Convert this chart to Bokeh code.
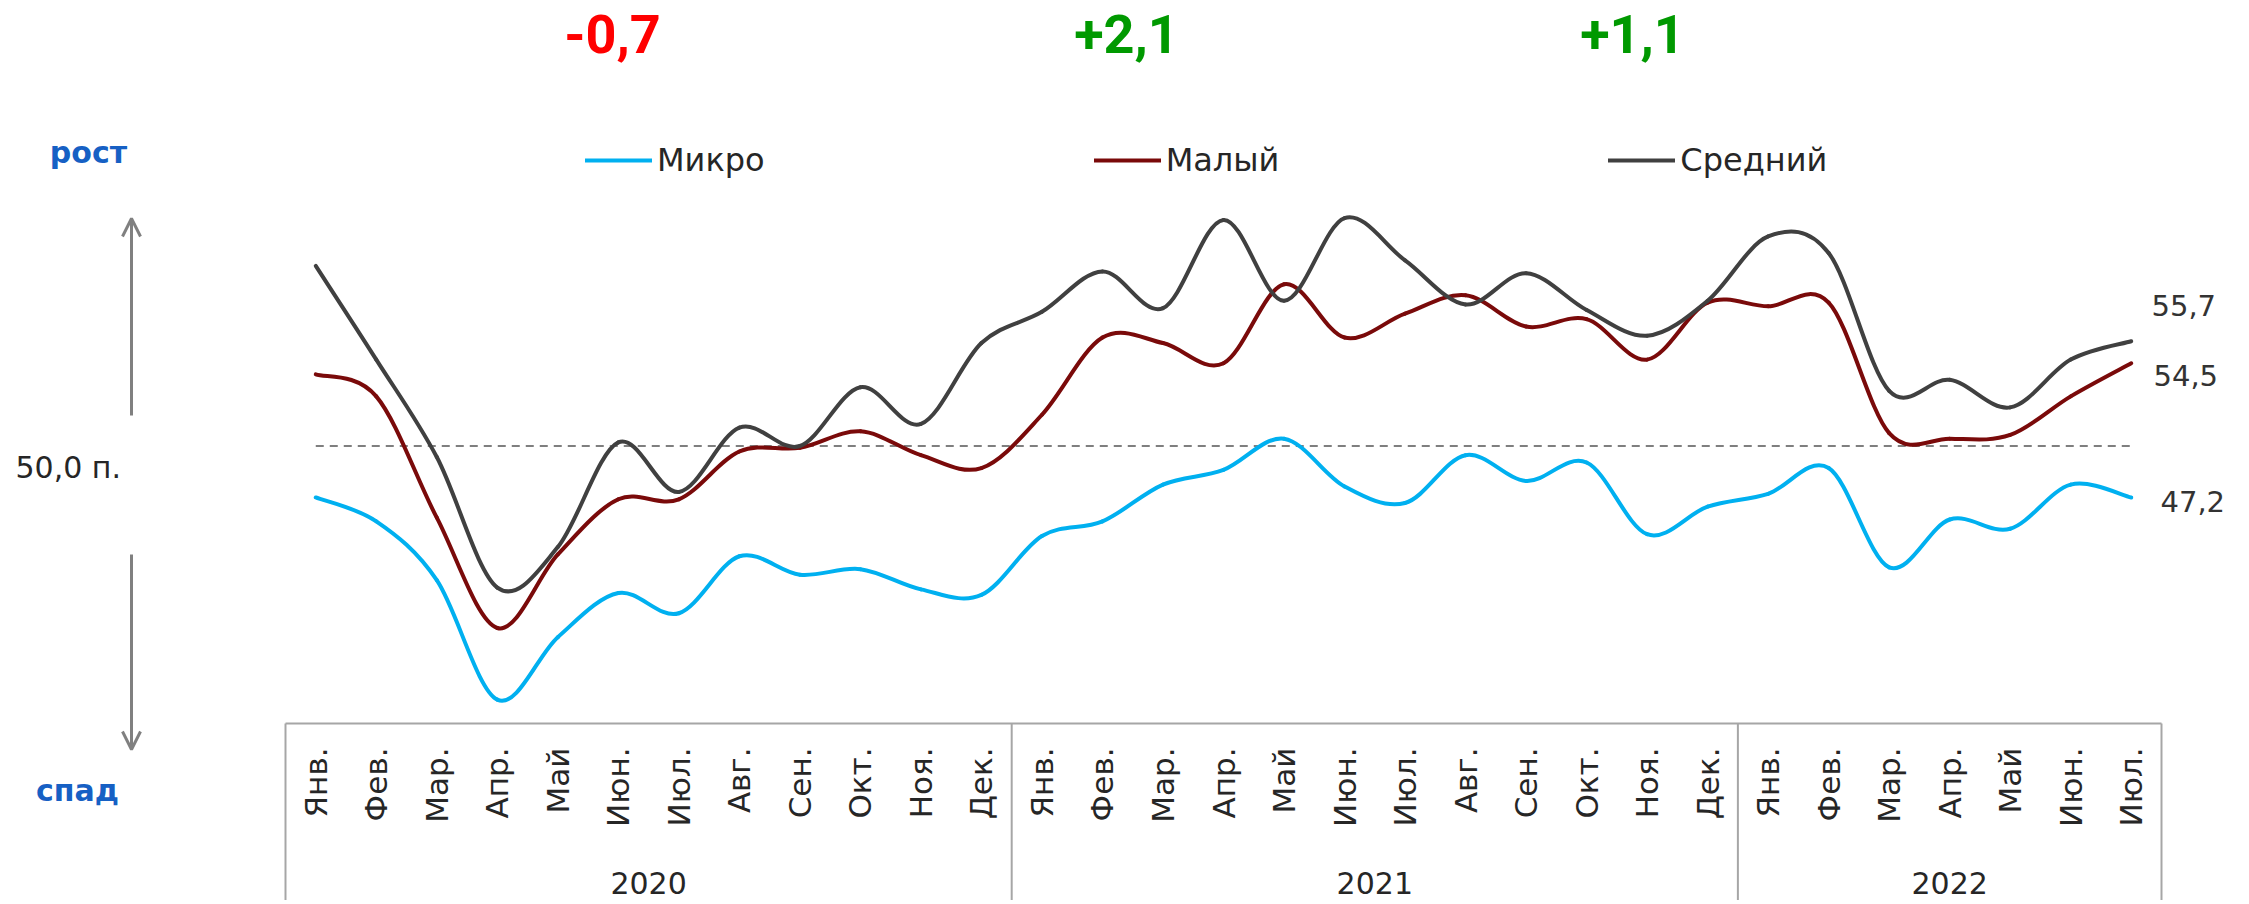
import math
from bokeh.plotting import figure
from bokeh.models import (Range1d, ColumnDataSource, Legend, LegendItem, Label, Arrow, OpenHead)
from bokeh.core.properties import value
from bokeh.embed import file_html
from bokeh.resources import INLINE

# ---------------- data ----------------
years = ["2020", "2021", "2022"]
months_in_year = [12, 12, 7]
month_names = ["Янв.", "Фев.", "Мар.", "Апр.", "Май", "Июн.",
               "Июл.", "Авг.", "Сен.", "Окт.", "Ноя.", "Дек."]

micro = [47.2, 45.9, 42.7, 36.2, 39.6, 42.0, 40.9, 44.0, 43.0, 43.3, 42.2, 41.9,
         45.1, 45.9, 47.9, 48.7, 50.4, 47.8, 46.9, 49.5, 48.1, 49.1, 45.2, 46.7,
         47.4, 48.8, 43.4, 46.0, 45.5, 47.9, 47.2]
small = [53.9, 52.7, 46.1, 40.1, 44.1, 47.1, 47.1, 49.7, 49.9, 50.8, 49.5, 48.8,
         51.7, 55.9, 55.6, 54.5, 58.8, 55.9, 57.2, 58.2, 56.5, 56.9, 54.7, 57.8,
         57.6, 57.8, 50.7, 50.4, 50.6, 52.7, 54.5]
medium = [59.8, 54.7, 49.4, 42.3, 44.5, 50.2, 47.5, 51.0, 50.0, 53.2, 51.2, 55.6,
          57.3, 59.5, 57.5, 62.3, 57.9, 62.4, 60.1, 57.7, 59.4, 57.4, 56.0, 57.9,
          61.4, 60.5, 53.0, 53.6, 52.1, 54.7, 55.7]
series_names = ["Микро", "Малый", "Средний"]
threshold = 50.0
threshold_label = "50,0 п."
end_labels = ["47,2", "54,5", "55,7"]
changes = ["-0,7", "+2,1", "+1,1"]
up_label = "рост"
down_label = "спад"

# ---------------- geometry helpers (reference pixel -> data) ----------------
W, H = 2245, 900
OFF = 0
BOX_LEFT, BOX_RIGHT, BOX_TOP = 285, 2161, 723
N = len(micro)
PXM = (BOX_RIGHT - BOX_LEFT) / N
Y50_PX = 445.5
KY = 18.38


def dx(px):
    return (px - BOX_LEFT) / PXM


def dy(py):
    return 50 + (Y50_PX - py) / KY


p = figure(width=W, height=H,
           x_range=Range1d(dx(OFF), dx(OFF + W)), y_range=Range1d(dy(OFF + H), dy(OFF)),
           x_axis_location=None, y_axis_location=None, min_border=0,
           output_backend="svg", toolbar_location=None, tools="")
p.outline_line_color = None
p.background_fill_color = "white"
p.border_fill_color = "white"
p.grid.visible = False

FONT = value("DejaVu Sans")
AX_COL = "#A6A6A6"

# ---------------- category axis (months / years) ----------------
mx, mlab, yx, ylab = [], [], [], []
bounds = [0]
i = 0
for yr, cnt in zip(years, months_in_year):
    start = i
    for m in month_names[:cnt]:
        mx.append(i + 0.5)
        mlab.append(m)
        i += 1
    yx.append((start + i) / 2)
    ylab.append(yr)
    bounds.append(i)

p.text(x=mx, y=[dy(747)] * len(mx), text=mlab, angle=math.pi / 2,
       text_align="right", text_baseline="middle", text_font=FONT,
       text_font_size="31px", text_color="#262626")
p.text(x=yx, y=[dy(882)] * len(yx), text=ylab, text_align="center",
       text_baseline="middle", text_font=FONT, text_font_size="30px", text_color="#262626")
p.segment(x0=[bounds[0]], y0=[dy(BOX_TOP)], x1=[bounds[-1]], y1=[dy(BOX_TOP)],
          line_color=AX_COL, line_width=2)
p.segment(x0=bounds, y0=[dy(BOX_TOP)] * len(bounds), x1=bounds, y1=[dy(OFF + H + 20)] * len(bounds),
          line_color=AX_COL, line_width=2)

# threshold dashed line
xs = [k + 0.5 for k in range(N)]
p.line(xs, [threshold] * N, line_color="#7F7F7F", line_width=2, line_dash="8 6")


def bezier_source(vals):
    n = len(vals)

    def P(k):
        k = min(max(k, 0), n - 1)
        return k + 0.5, vals[k]
    d = dict(x0=[], y0=[], x1=[], y1=[], cx0=[], cy0=[], cx1=[], cy1=[])
    for k in range(n - 1):
        xa, ya = P(k - 1)
        xb, yb = P(k)
        xc, yc = P(k + 1)
        xd, yd = P(k + 2)
        d["x0"].append(xb); d["y0"].append(yb)
        d["x1"].append(xc); d["y1"].append(yc)
        d["cx0"].append(xb + (xc - xa) / 6); d["cy0"].append(yb + (yc - ya) / 6)
        d["cx1"].append(xc - (xd - xb) / 6); d["cy1"].append(yc - (yd - yb) / 6)
    return ColumnDataSource(d)


colors = ["#00B0F0", "#7A0A0A", "#404040"]
renderers = []
for vals, col in zip([micro, small, medium], colors):
    r = p.bezier(x0="x0", y0="y0", x1="x1", y1="y1", cx0="cx0", cy0="cy0",
                 cx1="cx1", cy1="cy1", source=bezier_source(vals),
                 line_color=col, line_width=4, line_cap="round")
    renderers.append(r)

legend = Legend(items=[LegendItem(label=nm, renderers=[r]) for nm, r in zip(series_names, renderers)],
                orientation="horizontal", location=(585 - OFF, OFF + H - 179),
                glyph_width=67, glyph_height=34, label_standoff=5, spacing=329,
                padding=0, margin=0, border_line_color=None, background_fill_alpha=0,
                label_text_font="DejaVu Sans", label_text_font_size="32px",
                label_text_color="#262626", label_text_baseline="middle")
p.add_layout(legend, "center")

# end value labels
end_pos = [(2160, 501), (2153, 375), (2151, 305)]
for txt, (px, py) in zip(end_labels, end_pos):
    p.add_layout(Label(x=dx(px), y=dy(py), text=txt, text_align="left", text_baseline="middle",
                       text_font="DejaVu Sans", text_font_size="29px", text_color="#333333"))

# top change numbers
change_colors = ["#FF0000", "#009900", "#009900"]
change_pos = [612, 1126, 1632]
for txt, col, px in zip(changes, change_colors, change_pos):
    p.add_layout(Label(x=dx(px), y=dy(33), text=txt, text_align="center", text_baseline="middle",
                       text_font="Roboto", text_font_style="bold", text_font_size="54px",
                       text_color=col))

# left side annotations
p.add_layout(Label(x=dx(15), y=dy(467), text=threshold_label, text_align="left",
                   text_baseline="middle", text_font="DejaVu Sans", text_font_size="30px",
                   text_color="#262626"))
p.add_layout(Label(x=dx(88), y=dy(152), text=up_label, text_align="center", text_baseline="middle",
                   text_font="DejaVu Sans", text_font_style="bold", text_font_size="30px",
                   text_color="#1660C4"))
p.add_layout(Label(x=dx(77), y=dy(790), text=down_label, text_align="center", text_baseline="middle",
                   text_font="DejaVu Sans", text_font_style="bold", text_font_size="30px",
                   text_color="#1660C4"))
p.add_layout(Arrow(x_start=dx(131), y_start=dy(415), x_end=dx(131), y_end=dy(218),
                   end=OpenHead(size=18, line_color="#808080", line_width=3),
                   line_color="#808080", line_width=3))
p.add_layout(Arrow(x_start=dx(131), y_start=dy(554), x_end=dx(131), y_end=dy(749),
                   end=OpenHead(size=18, line_color="#808080", line_width=3),
                   line_color="#808080", line_width=3))

open("out.html", "w").write(file_html(p, INLINE))
